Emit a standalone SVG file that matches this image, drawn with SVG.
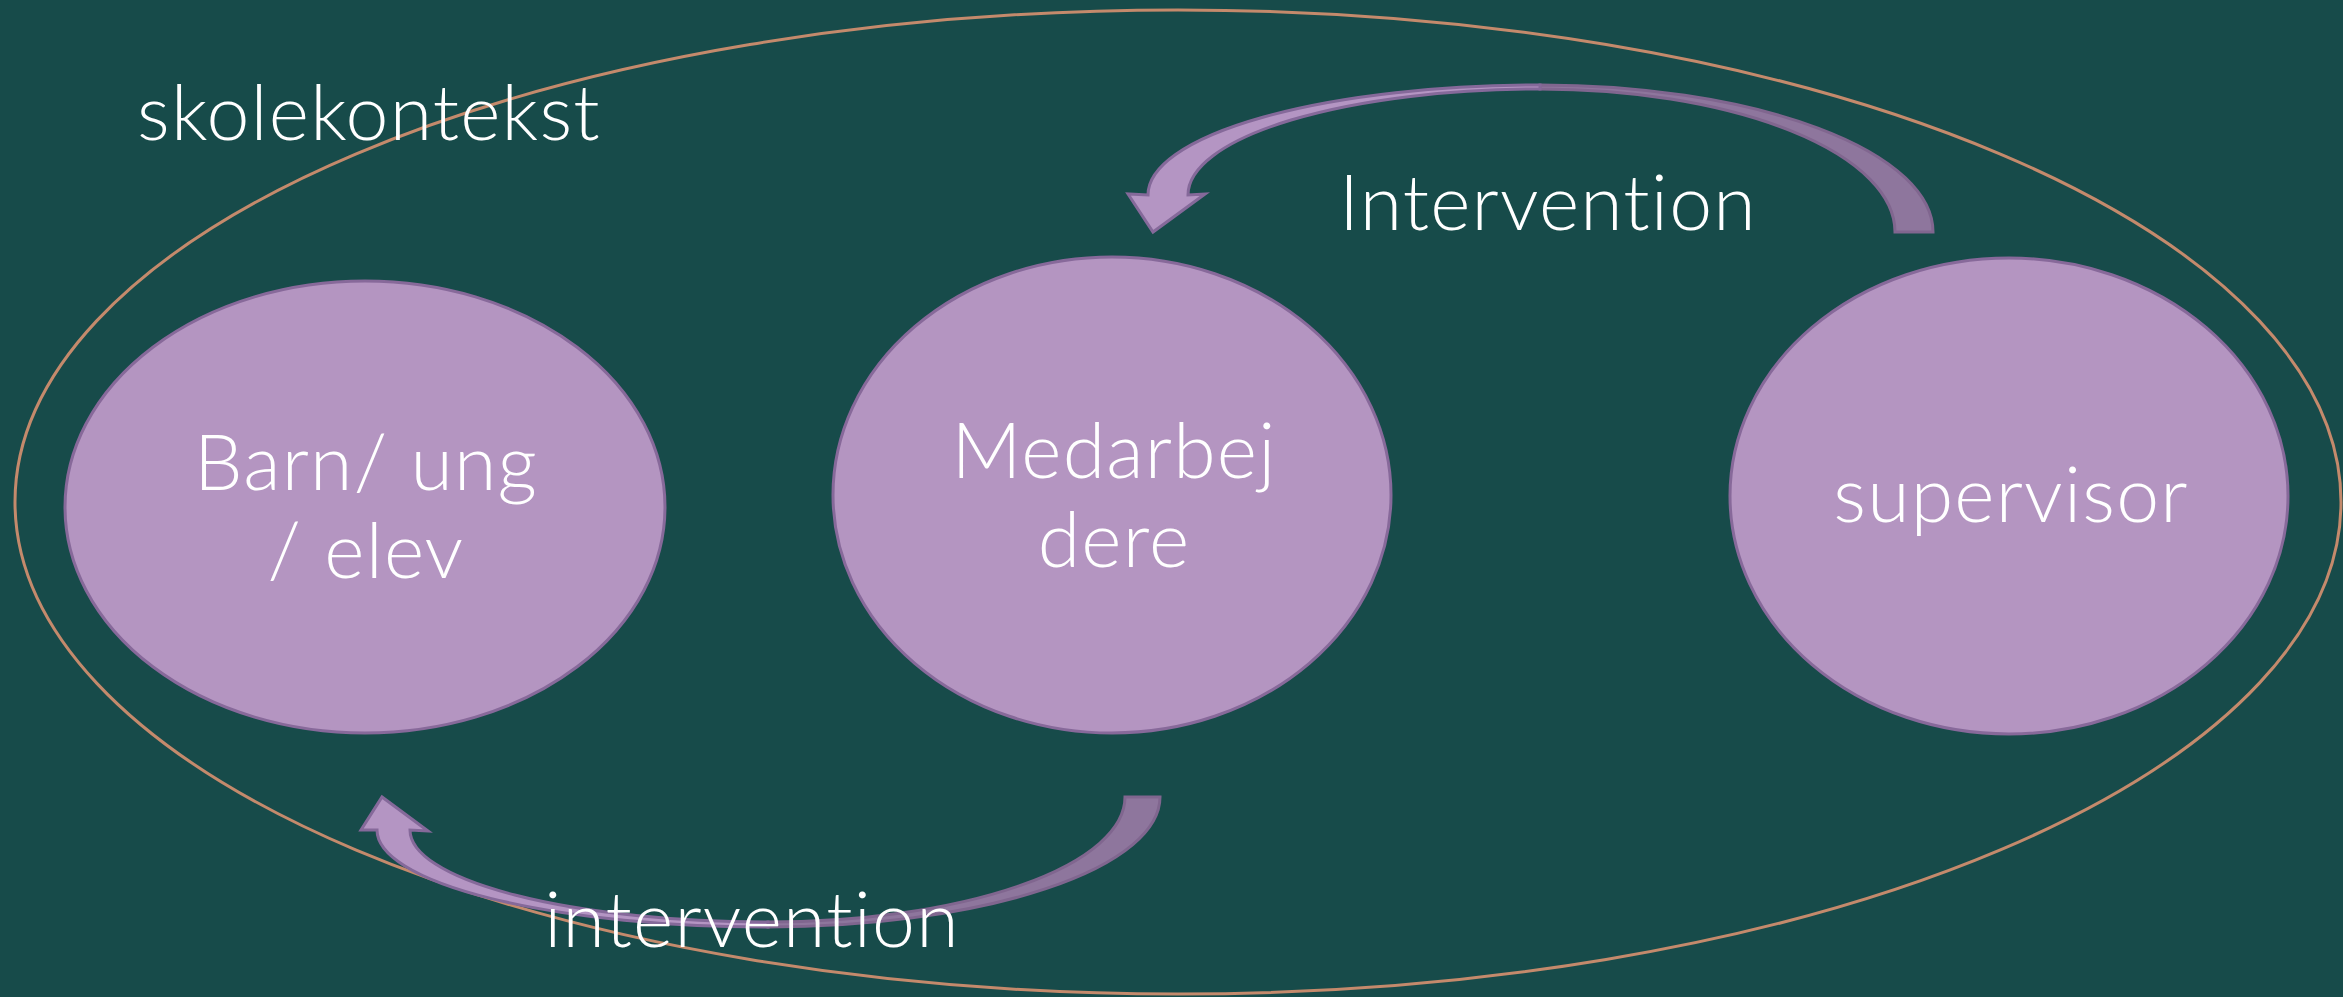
<svg xmlns="http://www.w3.org/2000/svg" width="2343" height="997" viewBox="0 0 2343 997">
<style>
.node{fill:#B495C1;stroke:#87699A;stroke-width:3}
.lbl{font-family:Lato,"Open Sans","Liberation Sans",sans-serif;font-weight:300;font-size:77px;letter-spacing:1.2px;fill:#FFFFFF;text-anchor:middle}
.light{fill:#B495C3;stroke:#85699A;stroke-width:3;stroke-linejoin:miter}
.dark{fill:#8E769D;stroke:#80668F;stroke-width:3}
</style>
<rect width="2343" height="997" fill="#174B4A"/>
<g id="context">
<ellipse cx="1178" cy="502" rx="1163" ry="492" fill="none" stroke="#C48A6C" stroke-width="3"/>
<text class="lbl" x="369" y="140">skolekontekst</text>
</g>
<g id="node-barn">
<ellipse class="node" cx="365" cy="507" rx="300" ry="226"/>
<text class="lbl" x="366" y="490">Barn/ ung</text>
<text class="lbl" x="366" y="578">/ elev</text>
</g>
<g id="node-medarbejdere">
<ellipse class="node" cx="1112" cy="495" rx="279" ry="238"/>
<text class="lbl" x="1114" y="478">Medarbej</text>
<text class="lbl" x="1114" y="567">dere</text>
</g>
<g id="node-supervisor">
<ellipse class="node" cx="2009" cy="496" rx="279" ry="238"/>
<text class="lbl" x="2011" y="522">supervisor</text>
</g>
<g id="connectors">
<g id="arrow-top">
<path class="dark" d="M1933,232 A393,147 0 0 0 1540,85 L1540,89 A355,143 0 0 1 1895,232 Z"/>
<path class="light" d="M1540,85 A392,110 0 0 0 1148,195 L1128,194 L1153,232 L1205,194 L1188,195 A352,106 0 0 1 1540,89 Z"/>
</g>
<g id="arrow-bottom">
<path class="dark" d="M1160,797 A392,130 0 0 1 768,927 L768,922 A357,125 0 0 0 1125,797 Z"/>
<path class="light" d="M768,927 A391,97 0 0 1 377,830 L361,830 L382,797 L428,831 L410,830 A358,92 0 0 0 768,922 Z"/>
</g>
<text class="lbl" x="1548" y="230">Intervention</text>
<text class="lbl" x="752" y="947">intervention</text>
</g>
</svg>
